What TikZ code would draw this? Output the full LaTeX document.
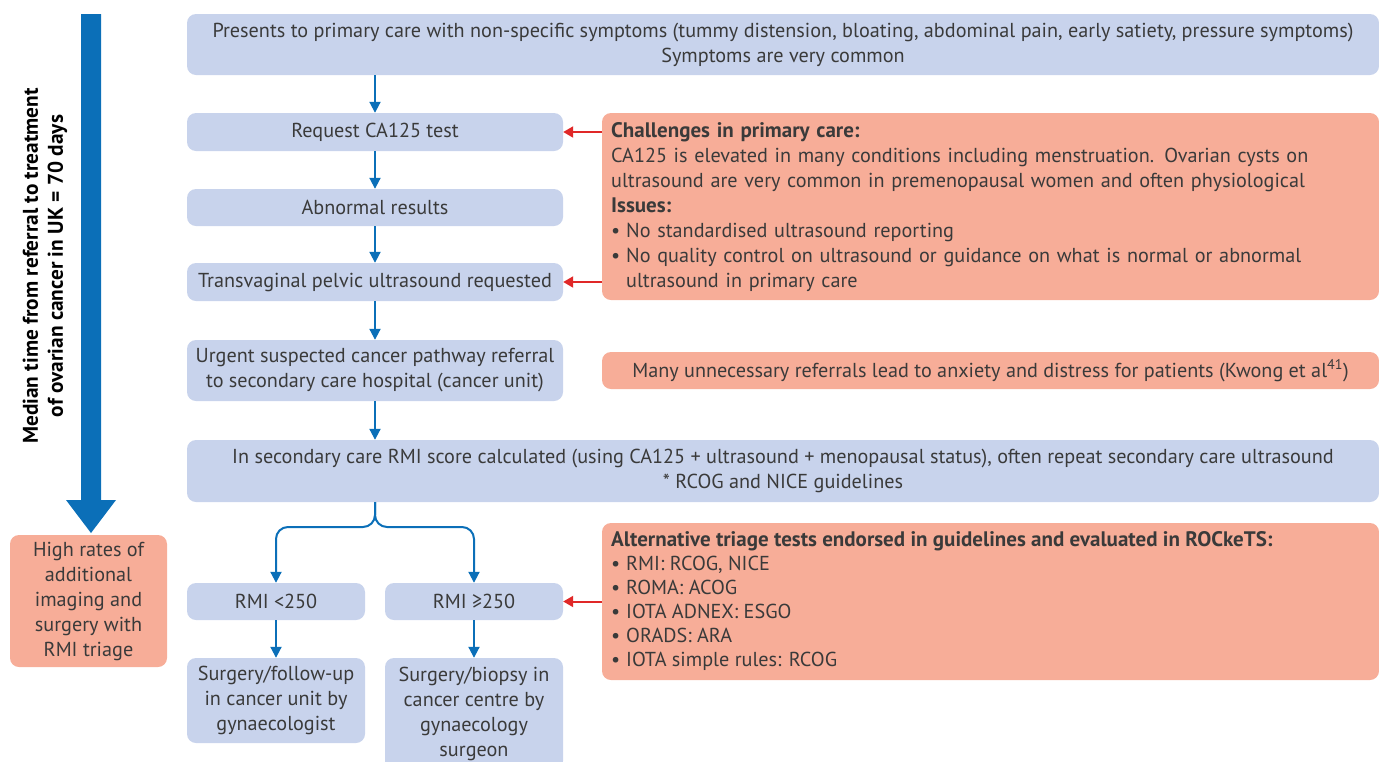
\documentclass[tikz,border=0pt]{standalone}
\usepackage{fontspec}
\setmainfont{PT Sans}
\usetikzlibrary{arrows.meta}
\definecolor{boxblue}{RGB}{200,211,236}
\definecolor{salmon}{RGB}{247,173,152}
\definecolor{arrblue}{RGB}{11,111,184}
\definecolor{arrred}{RGB}{224,40,40}
\definecolor{txt}{RGB}{58,58,58}
\newcommand{\bfx}[1]{{\fontsize{21}{25}\selectfont\bfseries #1}}
\begin{document}
\begin{tikzpicture}[x=1pt,y=-1pt,
  every node/.style={font=\fontsize{20.2}{25}\selectfont, text=txt, inner sep=0pt},
  bbox/.style={fill=boxblue, rounded corners=9pt, align=center},
  sbox/.style={fill=salmon, rounded corners=9pt},
  flow/.style={draw=arrblue, line width=2pt, -{Triangle[length=11pt,width=11pt]}},
  warn/.style={draw=arrred, line width=2pt, -{Triangle[length=10pt,width=11pt]}},
]
\useasboundingbox (0,0) rectangle (1379,761);
% left big arrow
\fill[arrblue] (81,14) -- (101,14) -- (101,500) -- (116,500) -- (91,533) -- (66,500) -- (81,500) -- cycle;
\node[rotate=90, align=center, font=\fontsize{21.3}{25}\selectfont\bfseries, text=black] (lbl) at (45,266) {Median time from referral to treatment\\of ovarian cancer in UK = 70 days};
\node[sbox, minimum width=157pt, minimum height=132pt, align=center] (high) at (88.5,601) {High rates of\\additional\\imaging and\\surgery with\\RMI triage};

% main flow
\node[bbox, minimum width=1192pt, minimum height=61pt] (top) at (783,44.5) {Presents to primary care with non-specific symptoms (tummy distension, bloating, abdominal pain, early satiety, pressure symptoms)\\Symptoms are very common};
\node[bbox, minimum width=376pt, minimum height=38pt] (req) at (375,132) {Request CA125 test};
\node[bbox, minimum width=376pt, minimum height=37pt] (abn) at (375,207.5) {Abnormal results};
\node[bbox, minimum width=376pt, minimum height=38pt] (tvu) at (375,282) {Transvaginal pelvic ultrasound requested};
\node[bbox, minimum width=376pt, minimum height=61pt] (urg) at (375,370.5) {Urgent suspected cancer pathway referral\\to secondary care hospital (cancer unit)};
\node[bbox, minimum width=1192pt, minimum height=62pt] (rmi) at (783,471) {In secondary care RMI score calculated (using CA125 + ultrasound + menopausal status), often repeat secondary care ultrasound\\* RCOG and NICE guidelines};
\node[bbox, minimum width=178pt, minimum height=37pt] (r1) at (276,601.5) {RMI <250};
\node[bbox, minimum width=178pt, minimum height=37pt] (r2) at (474,601.5) {RMI ≥250};
\node[bbox, minimum width=178pt, minimum height=85pt] (s1) at (276,700.5) {Surgery/follow-up\\in cancer unit by\\gynaecologist};
\node[bbox, minimum width=178pt, minimum height=112pt] (s2) at (474,714) {Surgery/biopsy in\\cancer centre by\\gynaecology\\surgeon};

% salmon boxes
\node[sbox, minimum width=777pt, minimum height=187pt] (chal) at (990.5,206.5) {};
\node[anchor=north west, align=left, text width=765pt] (chalt) at (611,122.5) {\bfx{Challenges in primary care:}\\
CA125 is elevated in many conditions including menstruation. Ovarian cysts on\\
ultrasound are very common in premenopausal women and often physiological\\
\bfx{Issues:}\\
\makebox[15pt][l]{\textbullet}No standardised ultrasound reporting\\
\makebox[15pt][l]{\textbullet}No quality control on ultrasound or guidance on what is normal or abnormal\\
\hspace*{15pt}ultrasound in primary care};
\node[sbox, minimum width=777pt, minimum height=37pt] (many) at (990.5,370.5) {Many unnecessary referrals lead to anxiety and distress for patients (Kwong et al\textsuperscript{41})};
\node[sbox, minimum width=777pt, minimum height=157pt] (alt) at (990.5,601.5) {};
\node[anchor=north west, align=left, font=\fontsize{20.2}{24}\selectfont] (altt) at (611,531) {\bfx{Alternative triage tests endorsed in guidelines and evaluated in ROCkeTS:}\\
\makebox[15pt][l]{\textbullet}RMI: RCOG, NICE\\
\makebox[15pt][l]{\textbullet}ROMA: ACOG\\
\makebox[15pt][l]{\textbullet}IOTA ADNEX: ESGO\\
\makebox[15pt][l]{\textbullet}ORADS: ARA\\
\makebox[15pt][l]{\textbullet}IOTA simple rules: RCOG};

% flow arrows
\draw[flow] (top.south -| req) -- (req.north);
\draw[flow] (req) -- (abn);
\draw[flow] (abn) -- (tvu);
\draw[flow] (tvu) -- (urg);
\draw[flow] (urg) -- (urg |- rmi.north);
\coordinate (split) at (375,502);
\draw[flow, rounded corners=12pt] (split) -- (375,527) -- (276,527) -- (r1.north);
\draw[flow, rounded corners=12pt] (split) -- (375,527) -- (474,527) -- (r2.north);
\draw[flow] (r1) -- (s1);
\draw[flow] (r2) -- (s2);

% red arrows
\draw[warn] (chal.west |- req) -- (req.east);
\draw[warn] (chal.west |- tvu) -- (tvu.east);
\draw[warn] (alt.west |- r2) -- (r2.east);
\end{tikzpicture}
\end{document}
